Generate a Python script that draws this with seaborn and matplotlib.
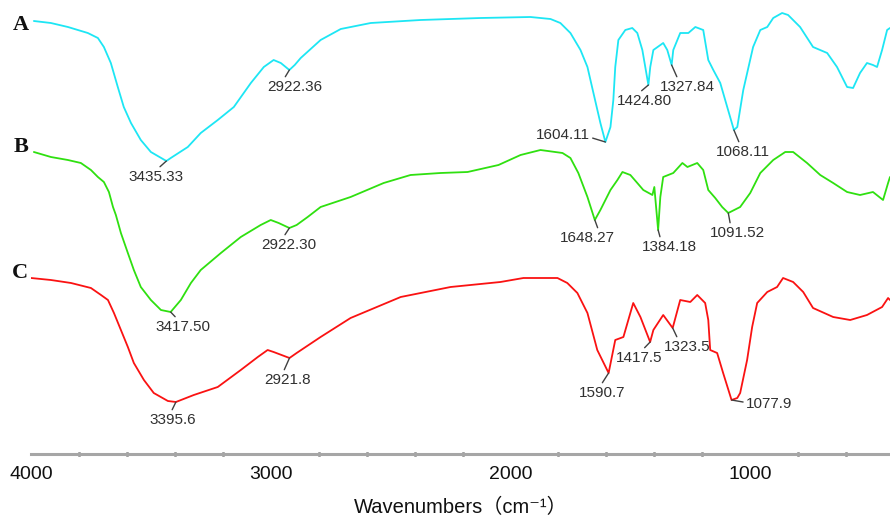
import matplotlib
matplotlib.use("Agg")
import matplotlib.pyplot as plt
from matplotlib.ticker import MultipleLocator
import pandas as pd
import seaborn as sns

# FTIR spectra of three samples (transmittance in arbitrary units, stacked)
wn_a = [3988, 3917, 3846, 3763, 3721, 3696, 3667, 3638, 3613, 3583, 3542, 3500, 3435.33, 3417,
        3346, 3292, 3221, 3154, 3083, 3029, 2988, 2958, 2922.36, 2900, 2875, 2792, 2708, 2583,
        2375, 2125, 1917, 1833, 1792, 1750, 1708, 1679, 1654, 1625, 1604.11, 1583, 1571, 1563,
        1550, 1521, 1492, 1471, 1450, 1424.80, 1417, 1404, 1363, 1346, 1327.84, 1321, 1292, 1258,
        1229, 1196, 1175, 1154, 1125, 1096, 1068.11, 1054, 1029, 988, 958, 929, 904, 867, 842,
        792, 738, 679, 638, 596, 571, 542, 513, 488, 471, 450, 429, 417]
t_a = [43.9, 43.7, 43.3, 42.7, 42.2, 41.3, 39.7, 37.3, 35.3, 33.7, 32.0, 30.8, 29.9, 30.2,
       31.3, 32.7, 34.0, 35.3, 37.7, 39.3, 40.0, 39.7, 39.0, 39.5, 40.2, 42.0, 43.1, 43.7,
       44.0, 44.2, 44.3, 44.1, 43.7, 42.7, 41.0, 39.3, 36.7, 33.7, 31.8, 33.3, 36.0, 39.3,
       42.0, 43.0, 43.2, 42.7, 41.0, 37.5, 39.3, 41.0, 41.7, 41.0, 39.5, 41.0, 42.7, 42.7,
       43.3, 43.0, 40.0, 39.0, 37.7, 35.3, 33.0, 33.3, 37.0, 41.3, 43.0, 43.3, 44.2, 44.7, 44.5,
       43.3, 41.3, 40.7, 39.3, 37.3, 37.2, 38.7, 39.7, 39.5, 39.3, 41.0, 43.0, 43.2]

wn_b = [3988, 3917, 3846, 3792, 3750, 3721, 3696, 3675, 3658, 3646, 3625, 3596, 3571, 3542,
        3500, 3458, 3417.50, 3375, 3333, 3292, 3208, 3125, 3042, 3000, 2967, 2922.30, 2892,
        2846, 2792, 2667, 2529, 2417, 2292, 2179, 2050, 1958, 1875, 1783, 1750, 1717, 1679,
        1648.27, 1625, 1583, 1554, 1533, 1500, 1471, 1446, 1408, 1400, 1384.18, 1375, 1363,
        1321, 1283, 1262, 1221, 1196, 1175, 1146, 1117, 1091.52, 1042, 1000, 958, 904, 854,
        821, 763, 708, 654, 596, 542, 488, 446, 425, 417]
t_b = [30.8, 30.3, 30.0, 29.7, 29.0, 28.3, 27.8, 26.8, 25.3, 24.5, 22.7, 20.7, 19.0, 17.3,
       16.0, 15.0, 14.8, 16.0, 17.7, 19.0, 20.7, 22.3, 23.5, 24.0, 23.7, 23.2, 23.5,
       24.3, 25.3, 26.3, 27.7, 28.5, 28.7, 28.8, 29.5, 30.5, 31.0, 30.7, 30.2, 28.7, 26.3,
       24.0, 25.0, 27.0, 28.0, 28.8, 28.5, 27.7, 27.0, 26.5, 27.3, 23.0, 26.3, 28.3,
       28.7, 29.7, 29.3, 29.7, 29.0, 27.0, 26.2, 25.3, 24.7, 25.3, 26.7, 28.7, 30.0, 30.8,
       30.8, 29.7, 28.5, 27.7, 26.8, 26.5, 26.8, 26.0, 27.7, 28.3]

wn_c = [4000, 3917, 3833, 3750, 3708, 3679, 3654, 3625, 3596, 3571, 3529, 3488, 3429, 3395.6,
        3321, 3221, 3125, 3054, 3013, 2988, 2921.8, 2892, 2792, 2667, 2458, 2250, 2042, 1946,
        1804, 1763, 1721, 1679, 1638, 1590.7, 1563, 1529, 1488, 1458, 1417.5, 1404, 1363,
        1323.5, 1292, 1250, 1221, 1188, 1175, 1167, 1138, 1113, 1077.9, 1054, 1042, 1013, 992,
        971, 929, 888, 863, 821, 779, 738, 654, 583, 513, 450, 425, 417]
t_c = [18.2, 18.0, 17.7, 17.2, 16.5, 16.0, 14.7, 13.0, 11.3, 9.7, 8.0, 6.7, 5.9, 5.8,
       6.5, 7.3, 9.0, 10.3, 11.0, 10.8, 10.2, 10.7, 12.3, 14.2, 16.3, 17.3, 17.8, 18.2,
       18.2, 17.7, 16.7, 14.7, 11.0, 8.7, 12.0, 12.3, 15.7, 14.3, 11.8, 13.0, 14.5,
       13.2, 16.0, 15.8, 16.5, 15.7, 14.0, 11.0, 10.7, 8.7, 6.0, 6.2, 6.7, 10.0, 13.3,
       15.7, 16.8, 17.3, 18.2, 17.8, 16.8, 15.2, 14.3, 14.0, 14.5, 15.3, 16.2, 16.0]

samples = ["A", "B", "C"]
colors = ["#1de6f4", "#2fe010", "#fa1212"]

# Band labels for each sample
peaks_a = ["3435.33", "2922.36", "1604.11", "1424.80", "1327.84", "1068.11"]
peaks_b = ["3417.50", "2922.30", "1648.27", "1384.18", "1091.52"]
peaks_c = ["3395.6", "2921.8", "1590.7", "1417.5", "1323.5", "1077.9"]

# label offsets (pixels) from the band and attachment point of the leader line
label_place = {
    "3435.33": (-10, -16, (0.5, 1.0)), "2922.36": (5, -17, (0.3, 1.0)),
    "1604.11": (-43, 7, (1.0, 0.35)), "1424.80": (-4, -16, (0.38, 1.0)),
    "1327.84": (16, -22, (0.33, 1.0)), "1068.11": (9, -22, (0.45, 1.0)),
    "3417.50": (12, -15, (0.42, 1.0)), "2922.30": (-1, -17, (0.4, 1.0)),
    "1648.27": (-7, -18, (0.7, 1.0)), "1384.18": (11, -17, (0.35, 1.0)),
    "1091.52": (9, -20, (0.38, 1.0)),
    "3395.6": (-3, -18, (0.45, 1.0)), "2921.8": (-2, -22, (0.4, 1.0)),
    "1590.7": (-6, -20, (0.45, 1.0)), "1417.5": (-11, -16, (0.55, 1.0)),
    "1323.5": (15, -19, (0.3, 1.0)), "1077.9": (38, -4, (0.0, 0.6)),
}
# sample letter offsets (pixels) from the first point of each trace
letter_offset = {"A": (-13, -4), "B": (-13, 5), "C": (-11, 5)}

frames = []
for name, wn, t in zip(samples, [wn_a, wn_b, wn_c], [t_a, t_b, t_c]):
    frames.append(pd.DataFrame({"wavenumber": wn, "T": t, "sample": name}))
df = pd.concat(frames, ignore_index=True)

sns.set_style("white")
plt.rcParams["font.family"] = ["Liberation Sans", "DejaVu Sans"]

fig = plt.figure(figsize=(8.9, 5.22), dpi=100)
ax = fig.add_axes([31 / 890, 68 / 522, 1 - 31 / 890, 1 - 68 / 522])

sns.lineplot(data=df, x="wavenumber", y="T", hue="sample", palette=dict(zip(samples, colors)),
             estimator=None, sort=False, legend=False, linewidth=1.3, ax=ax)

ax.set_xlim(4000, 417)
ax.set_ylim(0.6, 46)
ax.set_yticks([])
ax.set_ylabel("")

# band annotations with short leader lines
for name, wn, t, peaks in zip(samples, [wn_a, wn_b, wn_c], [t_a, t_b, t_c],
                              [peaks_a, peaks_b, peaks_c]):
    for lab in peaks:
        pos = float(lab)
        y = t[wn.index(pos)]
        dx, dy, rel = label_place[lab]
        ax.annotate(lab, xy=(pos, y), xytext=(dx, dy), textcoords="offset pixels",
                    ha="center", va="center", fontsize=11, color="#303030",
                    annotation_clip=False,
                    arrowprops=dict(arrowstyle="-", color="#404040", lw=1.0,
                                    shrinkA=0, shrinkB=0, relpos=rel))
    # sample letter beside the start of each trace
    ox, oy = letter_offset[name]
    ax.annotate(name, xy=(wn[0], t[0]), xytext=(ox, oy), textcoords="offset pixels",
                ha="center", va="center", fontsize=16, fontweight="bold",
                family=["Liberation Serif"], color="#111111", annotation_clip=False)

# x axis styling
sns.despine(ax=ax, left=True)
ax.spines["bottom"].set_color("#a6a6a6")
ax.spines["bottom"].set_linewidth(2.2)
ax.xaxis.set_major_locator(MultipleLocator(1000))
ax.xaxis.set_minor_locator(MultipleLocator(200))
ax.tick_params(axis="x", which="major", direction="inout", length=3.5, width=2.2,
               color="#222222", labelsize=14, pad=7, labelcolor="#111111")
ax.tick_params(axis="x", which="minor", direction="inout", length=2.5, width=1.8,
               color="#444444", bottom=True)
ax.set_xticks([4000, 3000, 2000, 1000])
ax.set_xticklabels(["4000", "3000", "2000", "1000"])

ax.set_xlabel("Wavenumbers（cm⁻¹）", fontsize=14.5, color="#111111",
              family=["Liberation Sans", "Noto Sans CJK SC", "DejaVu Sans"])
ax.xaxis.set_label_coords(0.5, -0.117)
ax.xaxis.label.set_va("center")

fig.savefig("out.png", dpi=100)
